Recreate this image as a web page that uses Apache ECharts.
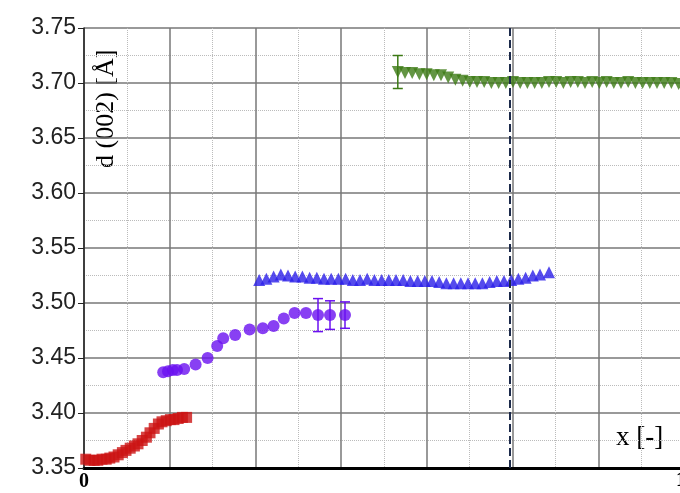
<!DOCTYPE html>
<html>
<head>
<meta charset="utf-8">
<script src="https://cdn.jsdelivr.net/npm/echarts@6/dist/echarts.min.js"></script>
<style>
  body{margin:0;background:#fff;}
  #main{width:680px;height:493px;}
</style>
</head>
<body>
<div id="main"></div>
<script>
    // x positions are fractions of the 0..1 axis
    var redX = [0.003,0.010,0.017,0.023,0.030,0.037,0.043,0.050,0.057,0.064,0.070,0.077,0.084,0.090,0.097,0.104,0.110,0.117,0.124,0.130,0.137,0.144,0.150,0.157,0.164,0.171];
    var redY = [3.358,3.357,3.357,3.357,3.358,3.358,3.359,3.360,3.362,3.364,3.366,3.368,3.370,3.372,3.375,3.378,3.382,3.386,3.390,3.392,3.393,3.394,3.394,3.395,3.396,3.396];
    var purX = [0.132,0.140,0.148,0.155,0.167,0.186,0.206,0.222,0.232,0.252,0.276,0.298,0.316,0.333,0.351,0.370,0.390,0.410,0.435];
    var purY = [3.437,3.438,3.439,3.439,3.440,3.444,3.450,3.461,3.468,3.471,3.476,3.477,3.479,3.486,3.491,3.491,3.489,3.489,3.489];
    var purErr = [0,0,0,0,0,0,0,0,0,0,0,0,0,0,0,0,0.015,0.013,0.012];
    var bluX = [0.292,0.304,0.316,0.328,0.340,0.352,0.364,0.376,0.388,0.400,0.412,0.424,0.436,0.448,0.460,0.472,0.484,0.496,0.508,0.520,0.532,0.544,0.556,0.568,0.580,0.592,0.604,0.616,0.628,0.640,0.652,0.664,0.676,0.688,0.700,0.712,0.724,0.736,0.748,0.760,0.775];
    var bluY = [3.521,3.522,3.524,3.526,3.525,3.524,3.524,3.523,3.523,3.522,3.522,3.522,3.522,3.521,3.521,3.522,3.521,3.521,3.521,3.521,3.521,3.520,3.520,3.520,3.520,3.519,3.518,3.518,3.518,3.518,3.518,3.518,3.519,3.520,3.520,3.521,3.522,3.523,3.525,3.526,3.528];
    var grnX = [0.523,0.535,0.547,0.559,0.571,0.583,0.595,0.607,0.619,0.631,0.643,0.655,0.667,0.679,0.691,0.703,0.715,0.727,0.739,0.751,0.763,0.775,0.787,0.799,0.811,0.823,0.835,0.847,0.859,0.871,0.883,0.895,0.907,0.919,0.931,0.943,0.955,0.967,0.979,0.991];
    var grnY = [3.710,3.709,3.709,3.708,3.708,3.707,3.707,3.705,3.703,3.702,3.701,3.701,3.701,3.700,3.700,3.700,3.701,3.700,3.700,3.700,3.700,3.701,3.701,3.700,3.701,3.701,3.700,3.701,3.700,3.701,3.700,3.700,3.701,3.700,3.700,3.700,3.700,3.700,3.700,3.699];
    var grnErr = [0.015];
    var yTicks = [3.35,3.40,3.45,3.50,3.55,3.60,3.65,3.70,3.75];

    function pts(xs, ys) { return xs.map(function (x, i) { return [x, ys[i]]; }); }
    function errPts(xs, ys, es) {
        var out = [];
        es.forEach(function (e, i) { if (e > 0) out.push([xs[i], ys[i] - e, ys[i] + e]); });
        return out;
    }
    function errSeries(data, color) {
        return {
            type: 'custom', data: data, z: 5,
            renderItem: function (params, api) {
                var lo = api.coord([api.value(0), api.value(1)]);
                var hi = api.coord([api.value(0), api.value(2)]);
                var w = 5;
                var st = { stroke: color, lineWidth: 1.5 };
                return { type: 'group', children: [
                    { type: 'line', shape: { x1: lo[0], y1: lo[1], x2: hi[0], y2: hi[1] }, style: st },
                    { type: 'line', shape: { x1: lo[0] - w, y1: lo[1], x2: lo[0] + w, y2: lo[1] }, style: st },
                    { type: 'line', shape: { x1: hi[0] - w, y1: hi[1], x2: hi[0] + w, y2: hi[1] }, style: st }
                ] };
            }
        };
    }

    var myChart = echarts.init(document.getElementById('main'));
    var step = 1 / 7;
    var option = {
        backgroundColor: '#fff',
        animation: false,
        grid: { left: 84, right: -4, top: 28, bottom: 25, outerBoundsMode: 'none', containLabel: false },
        xAxis: {
            type: 'value', min: 0, max: 1, interval: step,
            axisLine: { show: true, onZero: false, lineStyle: { color: '#000', width: 3 } },
            axisTick: { show: false },
            axisLabel: {
                margin: 4, color: '#000', fontFamily: 'Liberation Serif', fontWeight: 'bold', fontSize: 20,
                formatter: function (v) { return v < 0.01 ? '0' : ''; }
            },
            splitLine: { show: true, lineStyle: { color: '#777', width: 1.5 } },
            minorTick: { show: false, splitNumber: 2 },
            minorSplitLine: { show: true, lineStyle: { color: '#bbb', type: 'dotted', width: 1 } }
        },
        yAxis: {
            type: 'value', min: 3.35, max: 3.75, interval: 0.05,
            axisLine: { show: true, lineStyle: { color: '#222', width: 1.5 } },
            axisTick: { show: true, length: 6, inside: false, lineStyle: { color: '#222' } },
            axisLabel: {
                margin: 8, color: '#222', fontFamily: 'Liberation Sans', fontSize: 23,
                formatter: function (v) { return yTicks.indexOf(+v.toFixed(2)) >= 0 ? v.toFixed(2) : ''; }
            },
            splitLine: { show: true, lineStyle: { color: '#777', width: 1.5 } },
            minorTick: { show: false, splitNumber: 2 },
            minorSplitLine: { show: true, lineStyle: { color: '#bbb', type: 'dotted', width: 1 } }
        },
        graphic: [
            { type: 'text', x: 119, y: 168, rotation: Math.PI / 2, originX: 0, originY: 0,
              style: { text: 'd (002) [Å]', fill: '#000', font: '26px "Liberation Serif"',
                       align: 'left', verticalAlign: 'bottom' } },
            { type: 'text', left: 616, top: 424,
              style: { text: 'x [-]', fill: '#000', font: '27px "Liberation Serif"' } },
            { type: 'text', x: 676, y: 471,
              style: { text: '1', fill: '#000', font: 'bold 20px "Liberation Serif"' } }
        ],
        series: [
            { type: 'scatter', data: pts(redX, redY), symbol: 'rect', symbolSize: 11,
              itemStyle: { color: '#cc1414' } },
            { type: 'scatter', data: pts(purX, purY), symbol: 'circle', symbolSize: 12,
              itemStyle: { color: '#6a10f0' } },
            errSeries(errPts(purX, purY, purErr), '#6a10f0'),
            { type: 'scatter', data: pts(bluX, bluY), symbol: 'triangle', symbolSize: 12,
              itemStyle: { color: '#2a1ee8' } },
            { type: 'scatter', data: pts(grnX, grnY), symbol: 'triangle', symbolRotate: 180, symbolSize: 12,
              itemStyle: { color: '#3c7a14' } },
            errSeries(errPts(grnX, grnY, grnErr), '#3c7a14'),
            { type: 'line', data: [], markLine: {
                silent: true, symbol: 'none', label: { show: false },
                lineStyle: { color: '#1c2a4a', type: 'dashed', width: 2 },
                data: [{ xAxis: 5 * step }] } }
        ]
    };
    myChart.setOption(option);
</script>
</body>
</html>
